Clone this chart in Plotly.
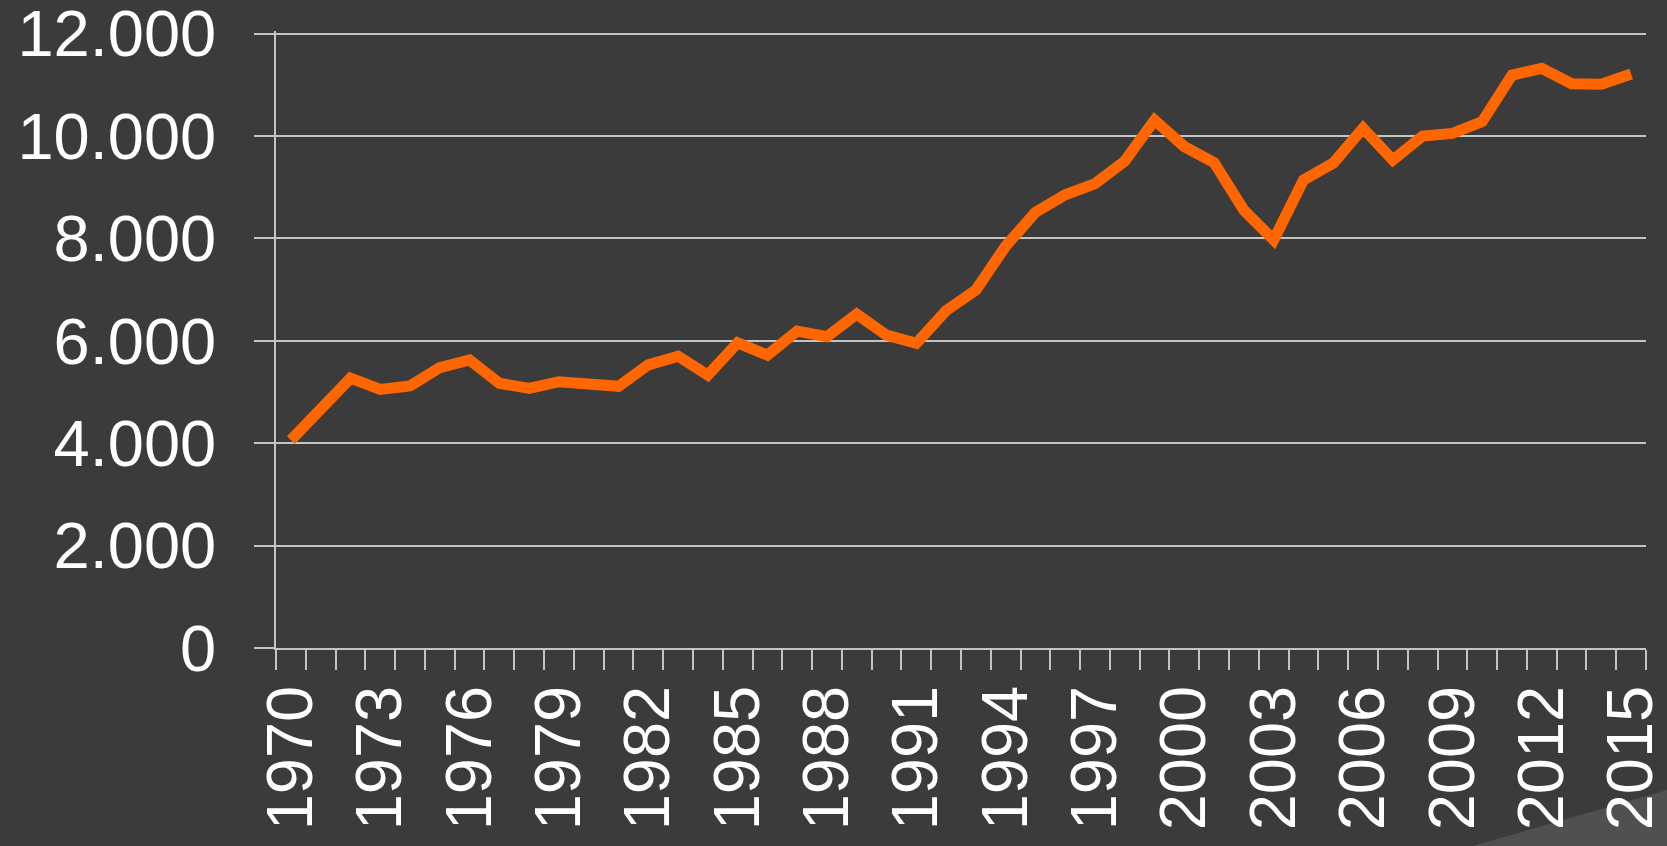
import plotly.graph_objects as go

years = list(range(1970, 2016))
values = [4060, 4700, 5270, 5050, 5120, 5475, 5625, 5170, 5070, 5200,
          5150, 5110, 5530, 5700, 5330, 5960, 5720, 6190, 6080, 6520,
          6110, 5950, 6590, 6990, 7850, 8510, 8850, 9070, 9510, 10310,
          9790, 9480, 8550, 7970, 9140, 9470, 10150, 9530, 10000, 10050,
          10280, 11190, 11320, 11020, 11010, 11210]
label_years = list(range(1970, 2016, 3))
label_text = [str(y) for y in label_years]
y_ticks = [0, 2000, 4000, 6000, 8000, 10000, 12000]

BG = "#3b3b3b"
GRID = "#c4c4c4"
LINE = "#ff6600"
FONT = "Liberation Sans, Arial, sans-serif"

fig = go.Figure()
fig.add_trace(go.Scatter(
    x=years, y=values, mode="lines",
    line=dict(color=LINE, width=11),
    hoverinfo="skip", showlegend=False,
))

W, H = 1667, 846
ml, mr, mt, mb = 276, 21, 31, 198
pw, ph = W - ml - mr, H - mt - mb

def px_to_paper(x, y):
    return (x - ml) / pw, (H - mb - y) / ph

p1 = px_to_paper(1473, 846)
p2 = px_to_paper(1667, 790)
p3 = px_to_paper(1667, 846)
fig.add_shape(
    type="path", xref="paper", yref="paper", layer="below",
    path=f"M {p1[0]} {p1[1]} L {p2[0]} {p2[1]} L {p3[0]} {p3[1]} Z",
    fillcolor="#505050", line=dict(width=0),
)

fig.update_layout(
    width=W, height=H,
    margin=dict(l=ml, r=mr, t=mt, b=mb, pad=0),
    paper_bgcolor=BG, plot_bgcolor=BG,
    separators=",.",
    font=dict(family=FONT, color="white", size=65),
    xaxis=dict(
        range=[1969.5, 2015.5], automargin=False,
        tickmode="array", tickvals=label_years, ticktext=label_text,
        tickangle=-90,
        ticks="outside", ticklen=20, tickcolor="rgba(0,0,0,0)",
        ticklabelstandoff=-10, ticklabeloverflow="allow",
        showgrid=False, zeroline=False,
        showline=True, linecolor=GRID, linewidth=1.5,
        tickfont=dict(size=65, color="white", family=FONT),
        minor=dict(tickmode="linear", tick0=1969.5, dtick=1,
                   ticks="outside", ticklen=20, tickcolor=GRID,
                   tickwidth=1.5, showgrid=False),
    ),
    yaxis=dict(
        range=[0, 12050], automargin=False,
        tickmode="array", tickvals=y_ticks,
        tickformat=",d",
        ticks="outside", ticklen=20, tickcolor=GRID, tickwidth=1.5,
        ticklabelstandoff=25, ticklabeloverflow="allow",
        showgrid=True, gridcolor=GRID, gridwidth=1.5,
        zeroline=False,
        showline=True, linecolor=GRID, linewidth=1.5,
        tickfont=dict(size=65, color="white", family=FONT),
    ),
)

fig.write_html(
    "out.html",
    config={"displayModeBar": False},
    post_script="document.body.style.margin='0';document.body.style.padding='0';"
                "document.body.style.background='#3b3b3b';"
                "document.body.style.overflow='hidden';",
)
